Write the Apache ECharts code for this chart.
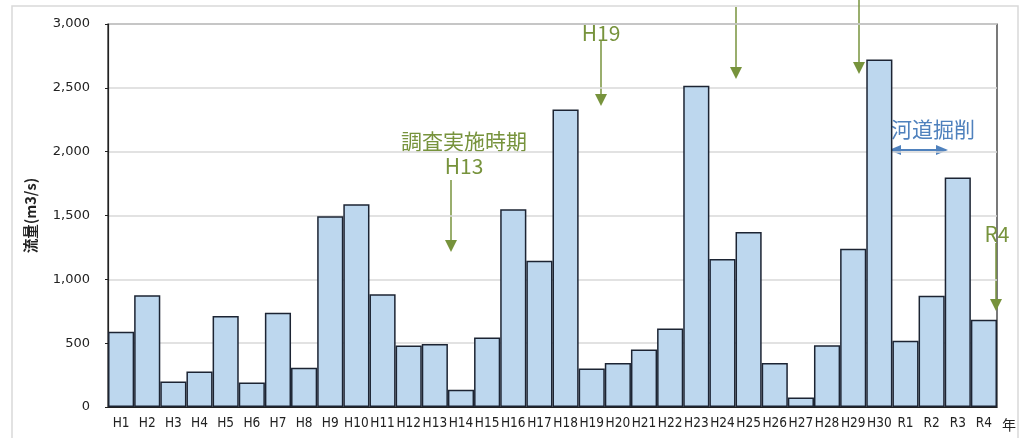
<!DOCTYPE html>
<html><head><meta charset="utf-8">
<script src="https://cdn.jsdelivr.net/npm/echarts@6/dist/echarts.min.js"></script>
<style>html,body{margin:0;padding:0;background:#fff}#c{width:1027px;height:438px}</style>
</head><body><div id="c"></div>
<script>
const categories = ['H1','H2','H3','H4','H5','H6','H7','H8','H9','H10','H11','H12','H13','H14','H15','H16','H17','H18','H19','H20','H21','H22','H23','H24','H25','H26','H27','H28','H29','H30','R1','R2','R3','R4'];
const flowValues = [590,875,200,278,713,192,739,307,1495,1588,883,482,494,135,544,1549,1146,2330,302,344,450,614,2516,1159,1370,344,75,484,1239,2721,518,872,1797,684];
const yTicks = [0,500,1000,1500,2000,2500,3000];
const yAxisTitle = '流量(m3/s)';
const xAxisUnit = '年';

const GREEN = '#77933C', BLUE = '#4F81BD';
function arrowDown(x, y1, y2, color){
  return {type:'group', children:[
    {type:'line', shape:{x1:x,y1:y1,x2:x,y2:y2-10}, style:{stroke:color,lineWidth:1.5}},
    {type:'polygon', shape:{points:[[x-6,y2-12],[x+6,y2-12],[x,y2]]}, style:{fill:color}}
  ]};
}
function label(text, x, y, color){
  return {type:'text', x:x, y:y, style:{text:text, fill:color, font:'21px "Noto Sans CJK JP", "Noto Sans", sans-serif', align:'center', verticalAlign:'middle'}};
}
const chart = echarts.init(document.getElementById('c'), null, {renderer:'canvas'});
chart.setOption({
  animation:false,
  backgroundColor:'#fff',
  grid:{left:108, right:30, top:24, bottom:31, show:true, borderColor:'#222', borderWidth:1.2, backgroundColor:'transparent'},
  xAxis:{type:'category', data:categories,
    axisLine:{lineStyle:{color:'#222', width:1.2}},
    axisTick:{show:false},
    axisLabel:{interval:0, margin:9, fontSize:13.5, color:'#222', fontFamily:'"DejaVu Sans Condensed","DejaVu Sans",sans-serif'},
    name:xAxisUnit, nameLocation:'end', nameGap:5,
    nameTextStyle:{fontSize:14, color:'#222', verticalAlign:'top', padding:[11,0,0,0], fontFamily:'"Noto Sans CJK JP",sans-serif'}
  },
  yAxis:{type:'value', min:yTicks[0], max:yTicks[yTicks.length-1], interval:yTicks[1]-yTicks[0],
    axisLine:{show:true, lineStyle:{color:'#222', width:1.2}},
    axisTick:{show:true, length:3, lineStyle:{color:'#222'}},
    axisLabel:{margin:18, fontSize:13, color:'#222', fontFamily:'"DejaVu Sans",sans-serif',
      formatter:v=>v.toLocaleString('en-US')},
    splitLine:{lineStyle:{color:'#d9d9d9', width:1.5}},
    name:yAxisTitle, nameLocation:'middle', nameGap:70, nameRotate:90,
    nameTextStyle:{fontSize:14.5, fontWeight:'bold', color:'#222', fontFamily:'"Noto Sans CJK JP",sans-serif'}
  },
  series:[{type:'bar', data:flowValues, barCategoryGap:'0%',
    itemStyle:{color:'#BDD7EE', borderColor:'#1c2433', borderWidth:1.5}}],
  graphic:[
    {type:'rect', shape:{x:12,y:6,width:1006,height:450}, style:{fill:'none', stroke:'#d9d9d9', lineWidth:1.5}, silent:true, z:-1},
    label('調査実施時期', 464, 141, GREEN),
    label('H13', 464, 166, GREEN),
    arrowDown(451, 180, 252, GREEN),
    label('H19', 601, 33, GREEN),
    arrowDown(601, 40, 106, GREEN),
    arrowDown(736, 7, 79, GREEN),
    arrowDown(859, 0, 74, GREEN),
    label('R4', 997, 234, GREEN),
    arrowDown(996, 243, 311, GREEN),
    label('河道掘削', 933, 129, BLUE),
    {type:'group', children:[
      {type:'line', shape:{x1:898,y1:150,x2:938,y2:150}, style:{stroke:BLUE,lineWidth:2}},
      {type:'polygon', shape:{points:[[889,150],[901,145],[901,155]]}, style:{fill:BLUE}},
      {type:'polygon', shape:{points:[[948,150],[936,145],[936,155]]}, style:{fill:BLUE}}
    ]}
  ]
});
</script></body></html>
